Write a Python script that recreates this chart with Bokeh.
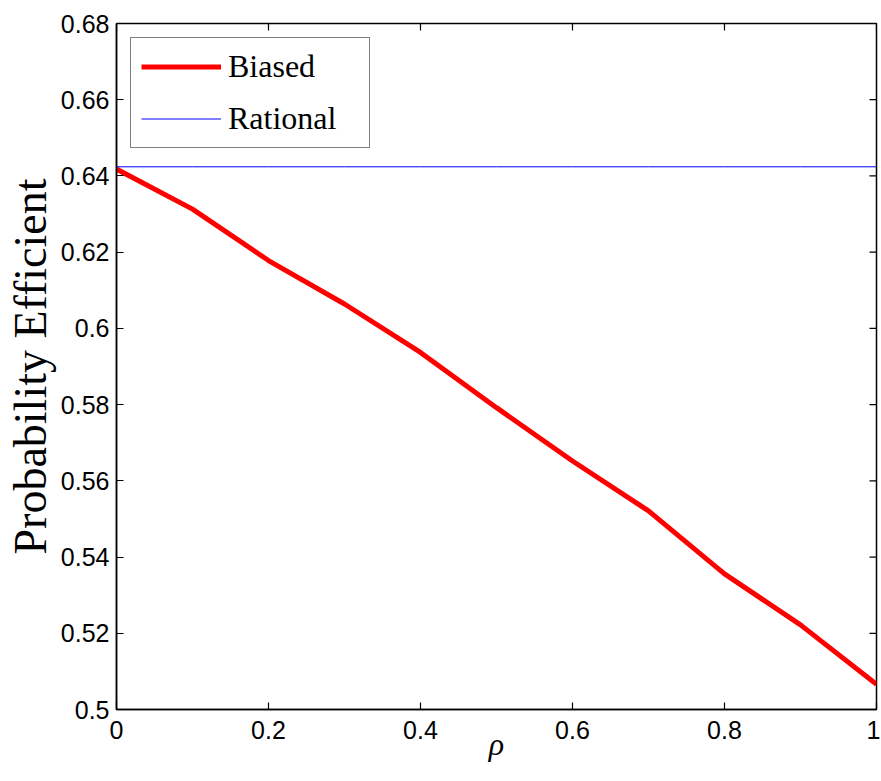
from bokeh.plotting import figure
from bokeh.models import Range1d, Legend, LegendItem, FixedTicker
from bokeh.embed import file_html
from bokeh.resources import INLINE
import math

rho = [0.0, 0.1, 0.2, 0.3, 0.4, 0.5, 0.6, 0.7, 0.8, 0.9, 1.0]
biased = [0.6418, 0.6313, 0.6178, 0.6064, 0.5937, 0.5792, 0.5652, 0.5521, 0.5356, 0.5222, 0.5066]
rational_value = 0.6424
rational = [rational_value for _ in rho]

x_ticks = [0, 0.2, 0.4, 0.6, 0.8, 1]
y_ticks = [0.5, 0.52, 0.54, 0.56, 0.58, 0.6, 0.62, 0.64, 0.66, 0.68]
y_labels = {0.5: "0.5", 0.52: "0.52", 0.54: "0.54", 0.56: "0.56", 0.58: "0.58",
            0.6: "0.6", 0.62: "0.62", 0.64: "0.64", 0.66: "0.66", 0.68: "0.68"}
x_labels = {0: "0", 0.2: "0.2", 0.4: "0.4", 0.6: "0.6", 0.8: "0.8", 1: "1"}

x_min, x_max = 0, 1
y_min, y_max = 0.5, 0.68

p = figure(width=880, height=764, output_backend="svg", toolbar_location=None,
           x_range=Range1d(x_min, x_max), y_range=Range1d(y_min, y_max),
           min_border_left=116, min_border_right=4, min_border_top=23, min_border_bottom=10)
p.background_fill_color = "white"
p.border_fill_color = "white"
p.grid.visible = False
p.outline_line_color = "black"
p.outline_line_width = 1.5

r_biased = p.line(rho, biased, line_color="#ff0000", line_width=5)
r_rat = p.line(rho, rational, line_color="#0000ff", line_width=1)

# mirrored inward ticks on top and right edges (clipped to the frame)
p.scatter(x=x_ticks, y=[y_max] * len(x_ticks), marker="dash", size=14,
          angle=math.pi / 2, line_color="black", line_width=1.2)
p.scatter(x=[x_max] * len(y_ticks), y=y_ticks, marker="dash", size=14,
          line_color="black", line_width=1.2)


def style(ax):
    ax.major_tick_in = 7
    ax.major_tick_out = 0
    ax.minor_tick_in = 0
    ax.minor_tick_out = 0
    ax.axis_line_color = "black"
    ax.axis_line_width = 1.5
    ax.major_tick_line_color = "black"
    ax.major_tick_line_width = 1.2
    ax.major_label_text_font = "Liberation Sans"
    ax.major_label_text_font_size = "25px"
    ax.major_label_text_color = "black"
    ax.axis_label_text_color = "black"


xa = p.xaxis[0]
xa.ticker = FixedTicker(ticks=x_ticks)
xa.major_label_overrides = x_labels
style(xa)
xa.major_label_standoff = 11
xa.axis_label = "ρ"
xa.axis_label_text_font = "Liberation Serif"
xa.axis_label_text_font_style = "italic"
xa.axis_label_text_font_size = "32px"
xa.axis_label_standoff = -16

ya = p.yaxis[0]
ya.ticker = FixedTicker(ticks=y_ticks)
ya.major_label_overrides = y_labels
style(ya)
ya.major_label_standoff = 7
ya.axis_label = "Probability Efficient"
ya.axis_label_text_font = "Liberation Serif"
ya.axis_label_text_font_style = "normal"
ya.axis_label_text_font_size = "46px"
ya.axis_label_standoff = 2

legend = Legend(items=[LegendItem(label="Biased", renderers=[r_biased]),
                       LegendItem(label="Rational", renderers=[r_rat])],
                location="top_left")
legend.label_text_font = "Liberation Serif"
legend.label_text_font_size = "32px"
legend.label_text_color = "black"
legend.glyph_width = 80
legend.glyph_height = 37
legend.label_height = 37
legend.label_width = 131
legend.label_standoff = 7
legend.spacing = 15
legend.padding = 10
legend.margin = 14
legend.border_line_color = "black"
legend.border_line_width = 1.5
legend.background_fill_alpha = 1
p.add_layout(legend)

open("out.html", "w").write(file_html(p, INLINE))
